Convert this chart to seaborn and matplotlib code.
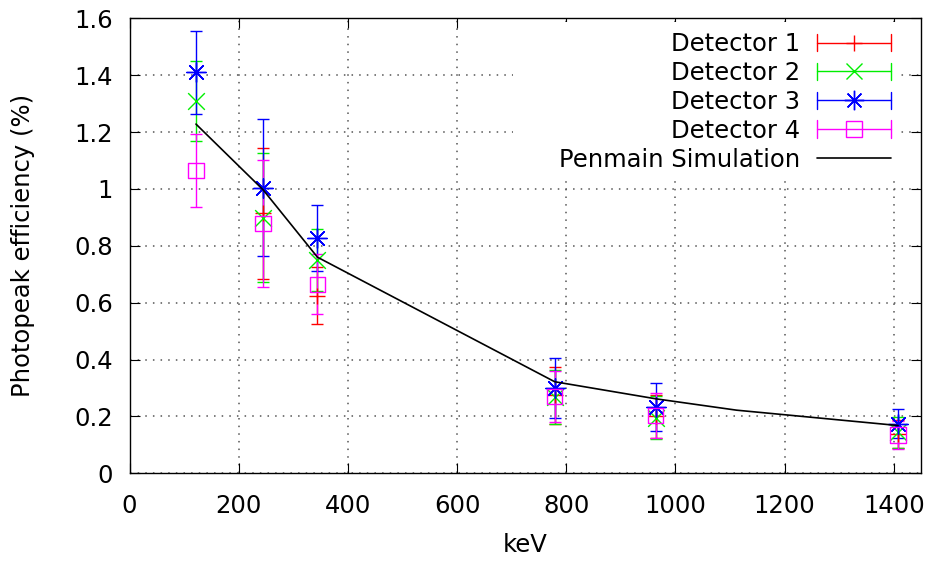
import numpy as np
import matplotlib
matplotlib.use("Agg")
import matplotlib.pyplot as plt
import seaborn as sns
from matplotlib.lines import Line2D
from matplotlib.patches import Rectangle
from matplotlib.legend_handler import HandlerBase

# ---------------- data ----------------
energy = [121.78, 244.70, 344.28, 778.90, 964.08, 1408.01]

det1 = [np.nan, 0.915, 0.625, 0.275, 0.200, 0.138]
err1 = [np.nan, 0.230, 0.100, 0.100, 0.075, 0.050]
det2 = [1.310, 0.898, 0.750, 0.270, 0.196, 0.144]
err2 = [0.140, 0.227, 0.110, 0.095, 0.076, 0.055]
det3 = [1.410, 1.005, 0.827, 0.300, 0.233, 0.175]
err3 = [0.147, 0.240, 0.116, 0.105, 0.083, 0.050]
det4 = [1.065, 0.878, 0.665, 0.270, 0.203, 0.135]
err4 = [0.128, 0.224, 0.105, 0.090, 0.080, 0.050]

sim_energy = [121.78, 244.70, 344.28, 778.90, 964.08, 1112.08, 1408.01]
sim_eff = [1.228, 0.997, 0.760, 0.322, 0.262, 0.222, 0.168]

labels = ["Detector 1", "Detector 2", "Detector 3", "Detector 4"]
xticks = [0, 200, 400, 600, 800, 1000, 1200, 1400]
yticks = [0, 0.2, 0.4, 0.6, 0.8, 1.0, 1.2, 1.4, 1.6]
ytick_labels = ["0", "0.2", "0.4", "0.6", "0.8", "1", "1.2", "1.4", "1.6"]

# ---------------- style ----------------
sns.set_style("ticks")
plt.rcParams["font.family"] = ["DejaVu Sans"]
plt.rcParams["text.color"] = "black"
plt.rcParams["axes.labelcolor"] = "black"
FS = 17.5

fig = plt.figure(figsize=(9.31, 5.62), dpi=100)
ax = fig.add_axes([129.5 / 931, 1 - 473.3 / 562, (921 - 129.5) / 931, (473.3 - 18.3) / 562])

colors = ["#ff0000", "#00ee00", "#0000ff", "#ff00ff"]
markers = ["+", "x", (8, 2, 0), "s"]
msizes = [12, 12, 14, 11]
series = [(det1, err1), (det2, err2), (det3, err3), (det4, err4)]

handles = []
for (vals, errs), c, m, ms, lab in zip(series, colors, markers, msizes, labels):
    ax.errorbar(energy, vals, yerr=errs, fmt="none", ecolor=c,
                elinewidth=1.0, capsize=4.6, capthick=1.0, zorder=3)
    sns.scatterplot(x=energy, y=vals, marker=m, s=ms ** 2,
                    color=c if m != "s" else "none",
                    edgecolor=c, linewidth=1.0, ax=ax, zorder=4, legend=False)
    proxy = Line2D([], [], color=c, marker=m, markersize=ms,
                   markerfacecolor="none" if m == "s" else c,
                   markeredgecolor=c, markeredgewidth=1.0, lw=1.0)
    handles.append(proxy)

sns.lineplot(x=sim_energy, y=sim_eff, color="black", lw=1.2, ax=ax,
             zorder=5, legend=False)
sim_handle = Line2D([], [], color="black", lw=1.2)


class ErrBarHandler(HandlerBase):
    def create_artists(self, legend, orig_handle, xdescent, ydescent,
                       width, height, fontsize, trans):
        y = height / 2 - ydescent
        x0, x1 = -xdescent, width - xdescent
        c = orig_handle.get_color()
        cap = 6.3
        arts = [Line2D([x0, x1], [y, y], color=c, lw=1.0),
                Line2D([x0, x0], [y - cap, y + cap], color=c, lw=1.0),
                Line2D([x1, x1], [y - cap, y + cap], color=c, lw=1.0),
                Line2D([(x0 + x1) / 2], [y], ls="none",
                       marker=orig_handle.get_marker(),
                       markersize=orig_handle.get_markersize(),
                       markerfacecolor=orig_handle.get_markerfacecolor(),
                       markeredgecolor=c, markeredgewidth=1.0)]
        for a in arts:
            a.set_transform(trans)
        return arts


hmap = {h: ErrBarHandler() for h in handles}
leg = ax.legend(handles + [sim_handle], labels + ["Penmain Simulation"],
                handler_map=hmap, loc="upper right",
                bbox_to_anchor=(0.9744, 0.991), borderaxespad=0,
                markerfirst=False, fontsize=FS, frameon=True,
                framealpha=1, facecolor="white", edgecolor="none",
                fancybox=False, handlelength=3.05, handletextpad=0.7,
                labelspacing=0.2, borderpad=0.4, labelcolor="black")

# ---------------- axes ----------------
ax.set_xlim(0, 1450)
ax.set_ylim(0, 1.6)
ax.set_xticks(xticks)
ax.set_xticklabels([str(t) for t in xticks])
ax.set_yticks(yticks)
ax.set_yticklabels(ytick_labels)
ax.tick_params(axis="both", which="major", direction="in", length=7.5,
               width=0.8, labelsize=FS, top=True, right=True, colors="black")
ax.tick_params(axis="y", pad=12)
ax.tick_params(axis="x", pad=15)
ax.set_axisbelow(True)
ax.grid(True, color="#555555", linestyle=(0, (1, 4)), linewidth=1.1)
for s in ax.spines.values():
    s.set_visible(True)
    s.set_color("black")
    s.set_linewidth(1.0)
ax.set_xlabel("keV", fontsize=FS, labelpad=11, color="black")
ax.set_ylabel("Photopeak efficiency (%)", fontsize=FS, labelpad=28, color="black")

# widen the opaque key area leftwards (gnuplot-style key box)
fig.canvas.draw()
bb = leg.get_window_extent().transformed(ax.transAxes.inverted())
ext = 36 / (921 - 129.5)
ax.add_patch(Rectangle((bb.x0 - ext, bb.y0), bb.width + ext, bb.height,
                       transform=ax.transAxes, facecolor="white",
                       edgecolor="none", zorder=1))

fig.savefig("out.png", dpi=100)
